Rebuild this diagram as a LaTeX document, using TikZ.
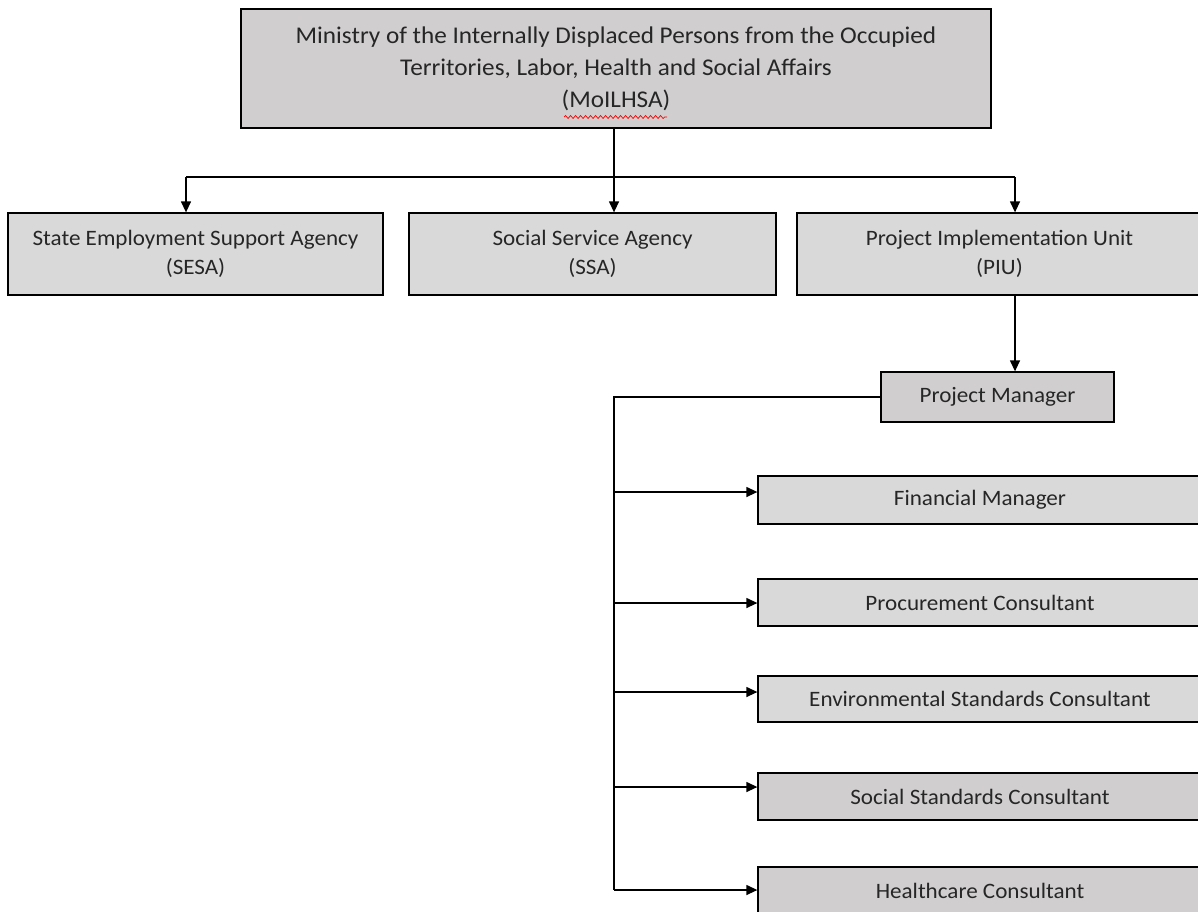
\documentclass[tikz,border=0pt]{standalone}
\usepackage{fontspec}
\setmainfont{Carlito}[FakeStretch=1.05]
\usetikzlibrary{arrows.meta,positioning,decorations.pathmorphing}
\definecolor{boxgray}{RGB}{217,217,217}
\definecolor{headgray}{RGB}{208,206,206}
\tikzset{
chart/.style={>={Triangle[length=11pt,width=10pt]},line width=1.3pt,
    x=1pt,y=-1pt},
unit/.style={rectangle,draw,fill=boxgray,align=center,inner sep=0pt,
    text=black!85,font=\fontsize{22}{29}\selectfont},
head/.style={unit,fill=headgray,font=\fontsize{24}{32}\selectfont},
staff/.style={unit,minimum width=444pt},
}

\begin{document}
\begin{tikzpicture}[chart]
    \clip (0,0) rectangle (1198,911);
    \useasboundingbox (0,0) rectangle (1198,911);

    \node[head,minimum width=750pt,minimum height=119pt] (min) at (616,68.5)
        {Ministry of the Internally Displaced Persons from the Occupied\\
         Territories, Labor, Health and Social Affairs\\(MoILHSA)};
    \node[unit,minimum width=375pt,minimum height=82pt] (sesa) at (195.5,254)
        {State Employment Support Agency\\(SESA)};
    \node[unit,minimum width=367pt,minimum height=82pt] (ssa) at (592.5,254)
        {Social Service Agency\\(SSA)};
    \node[unit,minimum width=405pt,minimum height=82pt] (piu) at (999.5,254)
        {Project Implementation Unit\\(PIU)};
    \node[unit,fill=headgray,minimum width=233pt,minimum height=50pt] (pm) at (997.5,397)
        {Project Manager};
    \node[staff,minimum height=48pt] (fin) at (980,500) {Financial Manager};
    \node[staff,minimum height=47pt] (proc) at (980,602.5) {Procurement Consultant};
    \node[staff,minimum height=46pt] (env) at (980,699) {Environmental Standards Consultant};
    \node[staff,fill=headgray,minimum height=47pt] (soc) at (980,796.5) {Social Standards Consultant};
    \node[staff,fill=headgray,minimum height=48pt] (hc) at (980,891) {Healthcare Consultant};

    % spell-check mark
    \draw[red,line width=0.7pt,decorate,
        decoration={snake,amplitude=1.5pt,segment length=5pt}] (564,117) -- (667,117);

    \coordinate (split) at (614,177);
    \coordinate (busl) at (186,177);
    \coordinate (busr) at (1015,177);

    \draw (busl) -- (busr);
    \draw[->] (min.south -| split) -- (split |- ssa.north);
    \draw[->] (busl) -- (busl |- sesa.north);
    \draw[->] (busr) -- (busr |- piu.north);
    \draw[->] (piu.south -| busr) -- (busr |- pm.north);

    \draw (pm.west) -| (split |- 0,890);
    \foreach \n/\y in {fin/492,proc/603,env/692,soc/787,hc/890}
        \draw[->] (split |- 0,\y) -- (\n.west |- 0,\y);
\end{tikzpicture}
\end{document}
